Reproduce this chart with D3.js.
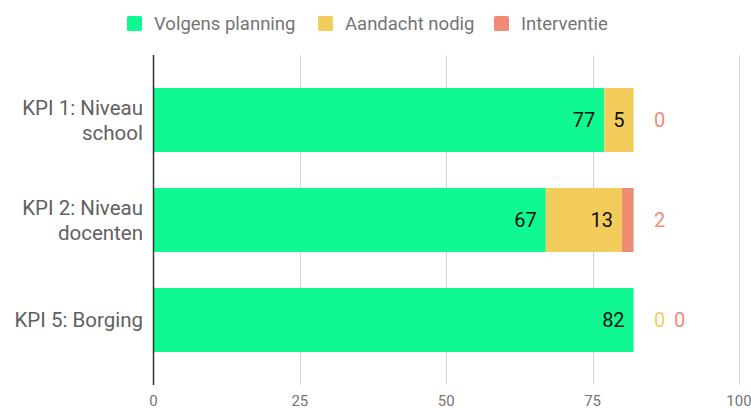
<!DOCTYPE html>
<html>
<head>
<meta charset="utf-8">
<script src="https://cdn.jsdelivr.net/npm/d3@7"></script>
<style>
  body { margin: 0; background: #fff; font-family: Roboto, "Noto Sans", sans-serif; }
</style>
</head>
<body>
<div id="chart"></div>
<script>
// data
const categories = [["KPI 1: Niveau", "school"], ["KPI 2: Niveau", "docenten"], ["KPI 5: Borging"]];
const seriesNames = ["Volgens planning", "Aandacht nodig", "Interventie"];
const seriesColors = ["#10f891", "#f2cd5c", "#f08c76"];
const planning = [77, 67, 82];
const aandacht = [5, 13, 0];
const interventie = [0, 2, 0];
const xTicks = [0, 25, 50, 75, 100];

const width = 751, height = 410;
const svg = d3.select("#chart").append("svg")
  .attr("width", width)
  .attr("height", height);

const x = d3.scaleLinear().domain([0, 100]).range([153.5, 739]);
const y = d3.scaleBand().domain(d3.range(categories.length)).range([70, 370])
  .paddingInner(0.36).paddingOuter(0.18);

const plotTop = 55, plotBottom = 385;

// gridlines
svg.append("g").selectAll("line")
  .data(xTicks.slice(1))
  .enter().append("line")
  .attr("x1", d => Math.round(x(d)) + 0.5)
  .attr("x2", d => Math.round(x(d)) + 0.5)
  .attr("y1", plotTop).attr("y2", plotBottom)
  .attr("stroke", "#d6d6d6").attr("stroke-width", 1);

// tick labels
svg.append("g").selectAll("text")
  .data(xTicks)
  .enter().append("text")
  .attr("x", d => x(d))
  .attr("y", 406)
  .attr("text-anchor", "middle")
  .attr("font-size", 15)
  .attr("fill", "#757575")
  .text(d => d);

// stacked segments
const stacked = categories.map((c, i) => {
  const vals = [planning[i], aandacht[i], interventie[i]];
  let acc = 0;
  return vals.map((v, s) => {
    const seg = { i, s, v, x0: acc, x1: acc + v };
    acc += v;
    return seg;
  });
});

const segs = stacked.flat();

svg.append("g").selectAll("rect")
  .data(segs.filter(d => d.v > 0))
  .enter().append("rect")
  .attr("x", d => x(d.x0))
  .attr("y", d => y(d.i))
  .attr("width", d => x(d.x1) - x(d.x0))
  .attr("height", y.bandwidth())
  .attr("fill", d => seriesColors[d.s]);

// labels: inside if fits, otherwise outside after the bar
stacked.forEach(row => {
  const total = row[row.length - 1].x1;
  let outX = x(total) + 26;
  row.forEach(d => {
    const w = x(d.x1) - x(d.x0);
    const cy = y(d.i) + y.bandwidth() / 2 + 7;
    if (w > 24) {
      svg.append("text")
        .attr("x", x(d.x1) - 9)
        .attr("y", cy)
        .attr("text-anchor", "end")
        .attr("font-size", 20)
        .attr("fill", "#111")
        .text(d.v);
    } else {
      svg.append("text")
        .attr("x", outX)
        .attr("y", cy)
        .attr("text-anchor", "middle")
        .attr("font-size", 20)
        .attr("fill", seriesColors[d.s])
        .text(d.v);
      outX += 20;
    }
  });
});

// baseline at 0
svg.append("line")
  .attr("x1", x(0)).attr("x2", x(0))
  .attr("y1", plotTop).attr("y2", plotBottom)
  .attr("stroke", "#333").attr("stroke-width", 1.5);

// category labels
categories.forEach((lines, i) => {
  const cy = y(i) + y.bandwidth() / 2;
  const lh = 25;
  const t = svg.append("text")
    .attr("text-anchor", "end")
    .attr("font-size", 20.5)
    .attr("fill", "#616161");
  lines.forEach((ln, k) => {
    t.append("tspan")
      .attr("x", 143)
      .attr("y", cy + 7 + (k - (lines.length - 1) / 2) * lh)
      .text(ln);
  });
});

// legend
const legendX = [127, 318, 494];
const legend = svg.append("g").selectAll("g")
  .data(seriesNames)
  .enter().append("g")
  .attr("transform", (d, i) => `translate(${legendX[i]},16)`);
legend.append("rect")
  .attr("width", 15).attr("height", 15).attr("rx", 1.5)
  .attr("fill", (d, i) => seriesColors[i]);
legend.append("text")
  .attr("x", 27).attr("y", 14)
  .attr("font-size", 18.5)
  .attr("fill", "#757575")
  .text(d => d);
</script>
</body>
</html>
